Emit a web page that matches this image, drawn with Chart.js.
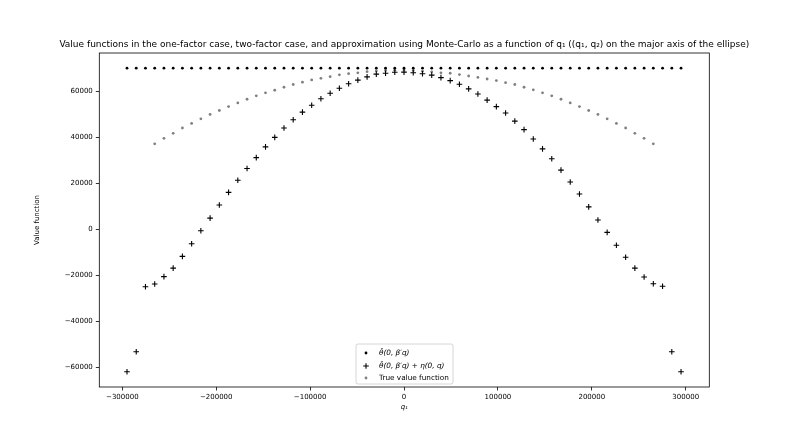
<!DOCTYPE html>
<html>
<head>
<meta charset="utf-8">
<script src="https://cdn.jsdelivr.net/npm/chart.js@4.4.0/dist/chart.umd.min.js"></script>
<style>
  body { margin: 0; background: #fff; }
  #wrap { width: 789px; height: 444px; }
</style>
</head>
<body>
<div id="wrap"><canvas id="valueChart" width="789" height="444"></canvas></div>
<script>
// q1 grid along the major axis of the ellipse
const qValues = [
  -295000, -285167, -275333, -265500, -255667, -245833, -236000, -226167, -216333, -206500,
  -196667, -186833, -177000, -167167, -157333, -147500, -137667, -127833, -118000, -108167,
  -98333, -88500, -78667, -68833, -59000, -49167, -39333, -29500, -19667, -9833,
  0,
  9833, 19667, 29500, 39333, 49167, 59000, 68833, 78667, 88500, 98333,
  108167, 118000, 127833, 137667, 147500, 157333, 167167, 177000, 186833, 196667,
  206500, 216333, 226167, 236000, 245833, 255667, 265500, 275333, 285167, 295000
];

// one-factor case
const oneFactor = [
  70000, 70000, 70000, 70000, 70000, 70000, 70000, 70000, 70000, 70000,
  70000, 70000, 70000, 70000, 70000, 70000, 70000, 70000, 70000, 70000,
  70000, 70000, 70000, 70000, 70000, 70000, 70000, 70000, 70000, 70000,
  70000,
  70000, 70000, 70000, 70000, 70000, 70000, 70000, 70000, 70000, 70000,
  70000, 70000, 70000, 70000, 70000, 70000, 70000, 70000, 70000, 70000,
  70000, 70000, 70000, 70000, 70000, 70000, 70000, 70000, 70000, 70000
];

// two-factor case (theta + eta)
const twoFactor = [
  -62000, -53300, -25000, -23800, -20600, -16900, -11800, -6300, -700, 4800,
  10500, 16000, 21300, 26400, 31100, 35800, 39900, 44000, 47600, 50900,
  53900, 56700, 59100, 61300, 63200, 64800, 66200, 67400, 67800, 68200,
  68300,
  68000, 67600, 67000, 65900, 64600, 63000, 61000, 58800, 56100, 53300,
  50500, 47000, 43300, 39200, 34900, 30600, 25700, 20500, 15300, 9700,
  4000, -1400, -7000, -12200, -16900, -20800, -23700, -24800, -53300, -62000
];

// Monte-Carlo "true" value function (not computed at the ends)
const trueValue = [
  null, null, null, 37100, 39500, 41700, 44000, 46000, 48000, 49900,
  51600, 53300, 54900, 56500, 58000, 59300, 60400, 61700, 62900, 63900,
  64900, 65600, 66300, 67100, 67600, 68000, 68500, 68800, 69000, 69100,
  69200,
  69000, 68700, 68400, 68000, 67800, 67200, 66600, 66000, 65300, 64600,
  63700, 62900, 61700, 60600, 59300, 58000, 56500, 54900, 53300, 51600,
  49900, 48000, 46000, 44000, 41700, 39500, 37100, null, null, null
];

const xTicks = [-300000, -200000, -100000, 0, 100000, 200000, 300000];
const yTicks = [-60000, -40000, -20000, 0, 20000, 40000, 60000];

const seriesLabels = [
  "\u03B8\u0304(0, \u03B2\u2032q)",
  "\u03B8\u0304(0, \u03B2\u2032q) + \u03B7(0, q)",
  "True value function"
];

const chartTitle = "Value functions in the one-factor case, two-factor case, and approximation using Monte-Carlo as a function of q\u2081 ((q\u2081, q\u2082) on the major axis of the ellipse)";

const FONT = "DejaVu Sans";

function toPoints(ys) {
  return qValues.map((q, i) => ({ x: q, y: ys[i] }));
}

function fmt(v) {
  return v < 0 ? "\u2212" + Math.abs(v) : String(v);
}

const styles = [
  { pointStyle: "circle", radius: 1.4, color: "#000000", borderWidth: 0 },
  { pointStyle: "cross", radius: 2.8, color: "#000000", borderWidth: 1.1 },
  { pointStyle: "circle", radius: 1.4, color: "#808080", borderWidth: 0 }
];

// title centred on the axes, frame around the axes, legend box in the lower middle
const framePlugin = {
  id: "frameAndLegend",
  afterDraw(chart) {
    const ctx = chart.ctx;
    const a = chart.chartArea;
    ctx.save();

    ctx.fillStyle = "#000";
    ctx.font = "9px '" + FONT + "'";
    ctx.textAlign = "center";
    ctx.textBaseline = "middle";
    ctx.fillText(chartTitle, (a.left + a.right) / 2, 44.5);

    ctx.strokeStyle = "#000";
    ctx.lineWidth = 0.8;
    ctx.strokeRect(a.left, a.top, a.right - a.left, a.bottom - a.top);

    // legend
    const bx = 356, by = 344, bw = 97, bh = 40;
    ctx.fillStyle = "rgba(255,255,255,0.8)";
    ctx.strokeStyle = "#cccccc";
    ctx.lineWidth = 0.8;
    ctx.beginPath();
    ctx.roundRect(bx, by, bw, bh, 2);
    ctx.fill();
    ctx.stroke();

    const rows = [353, 366, 378];
    rows.forEach((ry, i) => {
      const s = styles[i];
      ctx.fillStyle = s.color;
      ctx.strokeStyle = s.color;
      ctx.lineWidth = s.borderWidth || 1;
      Chart.helpers.drawPoint(ctx, {
        pointStyle: s.pointStyle,
        radius: s.radius,
        borderWidth: s.borderWidth,
        rotation: 0
      }, 366, ry);
      ctx.fillStyle = "#000";
      ctx.textBaseline = "middle";
      ctx.textAlign = "left";
      ctx.font = (i < 2 ? "italic " : "") + "7.3px '" + FONT + "'";
      ctx.fillText(seriesLabels[i], 379, ry);
    });
    ctx.restore();
  }
};

const datasets = [oneFactor, twoFactor, trueValue].map((ys, i) => ({
  label: seriesLabels[i],
  data: toPoints(ys),
  pointStyle: styles[i].pointStyle,
  pointRadius: styles[i].radius,
  pointBackgroundColor: styles[i].color,
  pointBorderColor: styles[i].color,
  pointBorderWidth: styles[i].borderWidth,
  showLine: false,
  order: i
}));

new Chart("valueChart", {
  type: "scatter",
  data: { datasets },
  options: {
    responsive: false,
    animation: false,
    events: [],
    layout: { padding: { left: 32.8, right: 79.7, top: 53, bottom: 32.8 } },
    plugins: {
      legend: { display: false },
      tooltip: { enabled: false },
      title: { display: false }
    },
    scales: {
      x: {
        type: "linear",
        min: -324500,
        max: 325100,
        afterBuildTicks(scale) { scale.ticks = xTicks.map(v => ({ value: v })); },
        afterFit(scale) { scale.height = 24.2; },
        ticks: {
          color: "#000",
          font: { family: FONT, size: 7 },
          padding: 2,
          maxRotation: 0,
          autoSkip: false,
          callback: v => fmt(v)
        },
        grid: { display: true, drawOnChartArea: false, drawTicks: true, tickLength: 3.5, color: "#000", lineWidth: 0.8 },
        border: { display: false },
        title: {
          display: true,
          text: "q\u2081",
          color: "#000",
          font: { family: FONT, size: 7, style: "italic" },
          padding: 0
        }
      },
      y: {
        type: "linear",
        min: -68600,
        max: 76600,
        afterBuildTicks(scale) { scale.ticks = yTicks.map(v => ({ value: v })); },
        afterFit(scale) { scale.width = 66.5; },
        ticks: {
          color: "#000",
          font: { family: FONT, size: 7 },
          padding: 3,
          autoSkip: false,
          callback: v => fmt(v)
        },
        grid: { display: true, drawOnChartArea: false, drawTicks: true, tickLength: 3.5, color: "#000", lineWidth: 0.8 },
        border: { display: false },
        title: {
          display: true,
          text: "Value function",
          color: "#000",
          font: { family: FONT, size: 7 },
          padding: 0
        }
      }
    }
  },
  plugins: [framePlugin]
});
</script>
</body>
</html>
